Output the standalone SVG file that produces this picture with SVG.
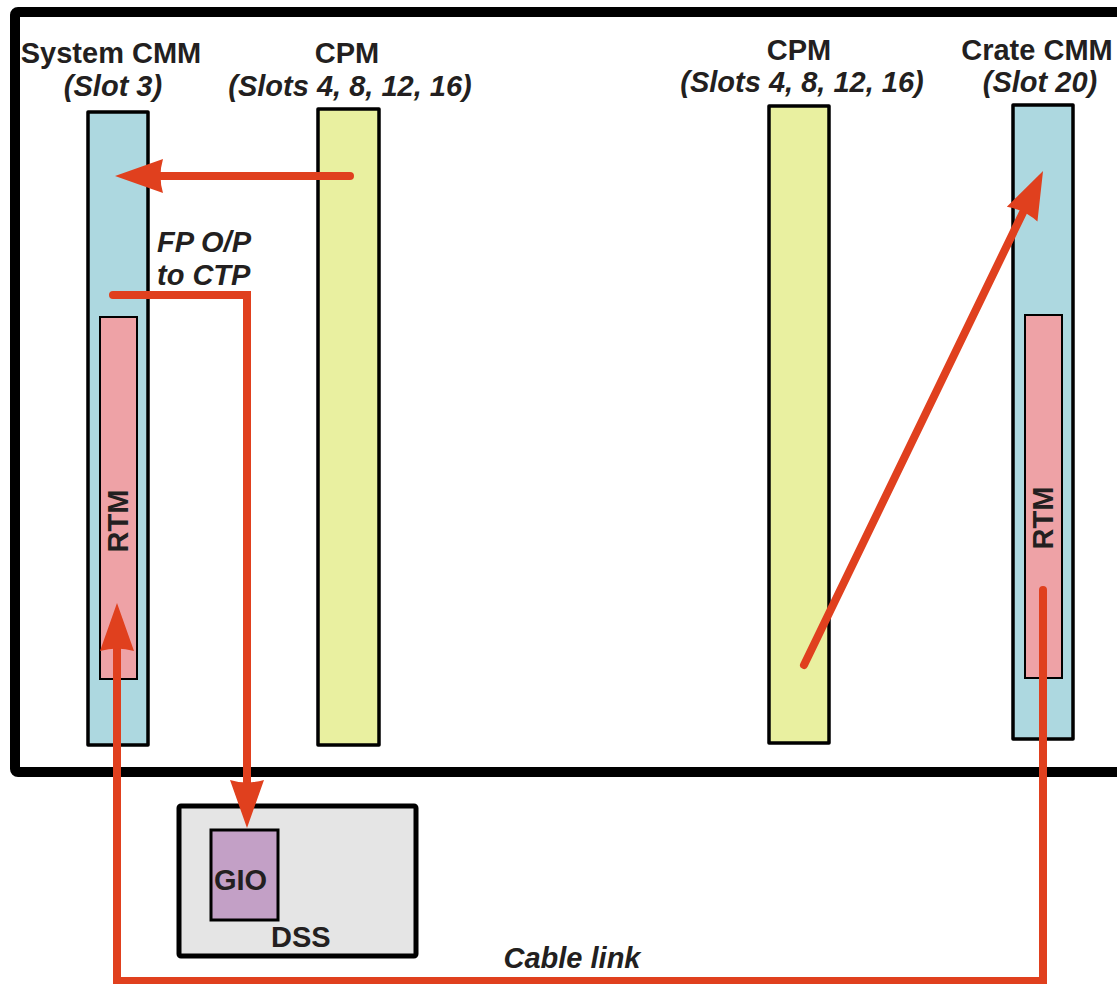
<svg xmlns="http://www.w3.org/2000/svg" width="1117" height="984" viewBox="0 0 1117 984">
<style>
.lbl{font-family:"Liberation Sans",Arial,sans-serif;font-weight:bold;font-size:29px;fill:#231f20;text-anchor:middle}
.it{font-style:italic}
.st{text-anchor:start}
.slot{stroke:#000;stroke-width:3.5;stroke-linejoin:round}
.cmm{fill:#add8e0}
.cpm{fill:#e9f0a0}
.rtm{fill:#eea2a6;stroke:#000;stroke-width:2}
.wire{fill:none;stroke:#e0401e;stroke-width:8;stroke-linecap:round;stroke-linejoin:miter}
</style>
<defs>
<marker id="ah" markerUnits="userSpaceOnUse" markerWidth="52" markerHeight="38" viewBox="-2 -19 52 38" refX="2" refY="0" orient="auto">
<path d="M48,0 L0,-17 Q5,0 0,17 Z" fill="#e0401e"/>
</marker>
</defs>
<rect width="1117" height="984" fill="#fff"/>
<g id="frame">
<rect x="15" y="12" width="1140" height="760" rx="3" fill="none" stroke="#000" stroke-width="10"/>
</g>
<g id="system-cmm">
<rect class="slot cmm" x="88" y="112" width="60" height="633"/>
<text class="lbl" x="111" y="63">System CMM</text>
<text class="lbl it" x="113" y="96">(Slot 3)</text>
</g>
<g id="rtm-left">
<rect class="rtm" x="100" y="317" width="37" height="362"/>
<text class="lbl" transform="translate(128,521) rotate(-90)">RTM</text>
</g>
<g id="cpm-left">
<rect class="slot cpm" x="318" y="109" width="61" height="636"/>
<text class="lbl" x="347" y="63">CPM</text>
<text class="lbl it" x="350" y="96">(Slots 4, 8, 12, 16)</text>
</g>
<g id="cpm-right">
<rect class="slot cpm" x="769" y="106" width="60" height="637"/>
<text class="lbl" x="799" y="60">CPM</text>
<text class="lbl it" x="802" y="92">(Slots 4, 8, 12, 16)</text>
</g>
<g id="crate-cmm">
<rect class="slot cmm" x="1013" y="105" width="60" height="634"/>
<text class="lbl" x="1037" y="60">Crate CMM</text>
<text class="lbl it" x="1040" y="92">(Slot 20)</text>
</g>
<g id="rtm-right">
<rect class="rtm" x="1025" y="315" width="37" height="363"/>
<text class="lbl" transform="translate(1053,518) rotate(-90)">RTM</text>
</g>
<g id="dss">
<rect x="179" y="806" width="237" height="150" rx="2" fill="#e5e5e5" stroke="#000" stroke-width="5"/>
<text class="lbl st" x="271" y="947">DSS</text>
</g>
<g id="gio">
<rect x="211" y="830" width="67" height="90" fill="#c3a0c6" stroke="#000" stroke-width="3"/>
<text class="lbl st" x="214" y="890">GIO</text>
</g>
<g id="connectors">
<path class="wire" d="M350,176 H161" marker-end="url(#ah)"/>
<path class="wire" d="M113,295 H247 V782" marker-end="url(#ah)"/>
<path class="wire" d="M1043,590 V981 H117 V649" marker-end="url(#ah)"/>
<path class="wire" d="M804,665 L1023,212.4" marker-end="url(#ah)"/>
</g>
<g id="labels">
<text class="lbl it st" x="157" y="252">FP O/P</text>
<text class="lbl it st" x="157" y="285">to CTP</text>
<text class="lbl it" x="572" y="968">Cable link</text>
</g>
</svg>
